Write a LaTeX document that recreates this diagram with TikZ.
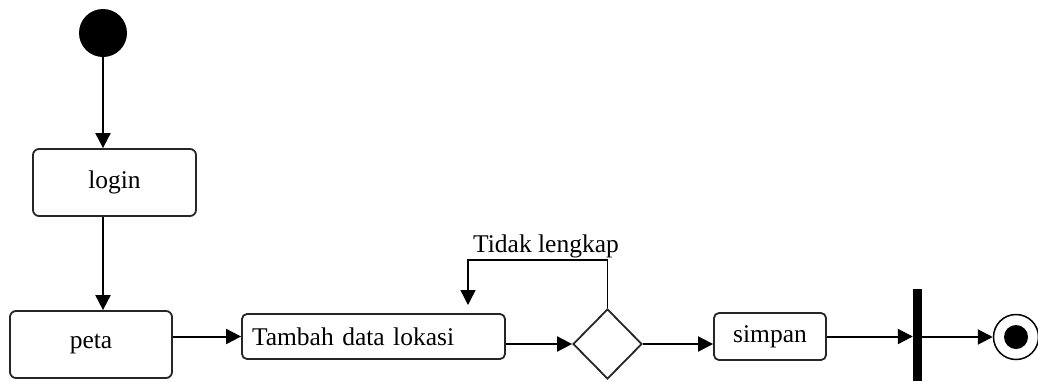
\documentclass[tikz,border=0pt]{standalone}
\usepackage{fontspec}
\setmainfont{Liberation Serif}
\usetikzlibrary{shapes.geometric,arrows.meta,calc}
\tikzset{
  act/.style={draw=black!85, line width=1.8pt, rounded corners=6pt, inner sep=0pt, font=\fontsize{25.5}{30}\selectfont},
  flow/.style={line width=2pt, -{Triangle[length=15pt,width=15pt]}},
  thinflow/.style={line width=1.4pt, -{Triangle[length=15pt,width=15pt]}},
  lbl/.style={font=\fontsize{25.5}{30}\selectfont, inner sep=0pt}
}
\begin{document}
\begin{tikzpicture}[x=1pt,y=-1pt]
\useasboundingbox (0,0) rectangle (1038,381);
% nodes
\node[circle, fill=black, minimum size=48pt, inner sep=0pt] (init) at (103,33) {};
\node[act, minimum width=163pt, minimum height=67pt] (login) at (114.5,182.5) {login};
\node[act, minimum width=162pt, minimum height=67pt] (peta) at (91,344.5) {peta};
\node[act, rounded corners=5pt, text width=243pt, align=left, inner xsep=10pt, minimum height=45pt] (tambah) at (373.5,336.5) {Tambah data lokasi};
\node[diamond, draw=black!85, line width=1.8pt, minimum width=69pt, minimum height=70pt, inner sep=0pt] (dec) at (607.5,344) {};
\node[act, rounded corners=5pt, minimum width=112pt, minimum height=47pt] (simpan) at (770,336.5) {simpan};
\node[rectangle, fill=black, minimum width=9pt, minimum height=92pt, inner sep=0pt] (bar) at (917.5,335) {};
\node[circle, draw=black, line width=1.5pt, minimum size=45pt, inner sep=0pt] (final) at (1016,337) {};
\node[circle, fill=black, minimum size=24pt, inner sep=0pt] (finalin) at (final.center) {};
\node[lbl] (tl) at (546,246) {Tidak lengkap};
\coordinate (lp) at (468,260);
\coordinate (lpend) at (468,305);
% connectors
\draw[flow] (init.south) -- (init |- login.north);
\draw[flow] (login.south -| init) -- (peta.north -| init);
\draw[flow] (peta.east |- tambah.west) -- (tambah.west);
\draw[flow] (tambah.east |- dec.west) -- (dec.west);
\draw[thinflow] (dec.north) |- (lp) -- (lpend);
\draw[flow] (dec.east) -- (dec.east -| simpan.west);
\draw[flow] (simpan.east) -- (simpan.east -| bar.west);
\draw[flow] (bar.east |- final.west) -- (final.west);
\end{tikzpicture}
\end{document}
